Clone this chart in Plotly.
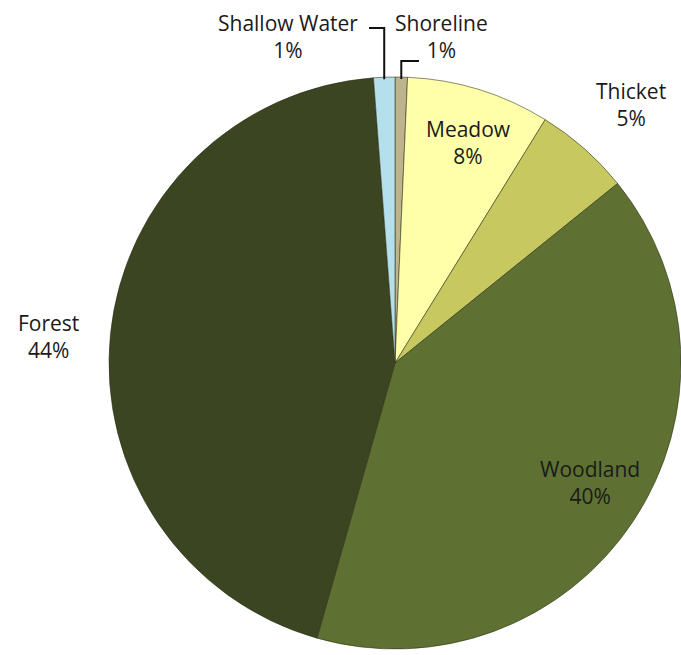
import math
import plotly.graph_objects as go

labels = ["Shoreline", "Meadow", "Thicket", "Woodland", "Forest", "Shallow Water"]
values = [0.7, 8.1, 5.4, 40.2, 44.4, 1.2]
colors = ["#BDB48E", "#FFFFAA", "#C8C860", "#5E7132", "#3B4521", "#B6DFEC"]

W, H = 681, 655
R = 286
CX, CY = 395, 363  # pixel centre (from top)

fig = go.Figure(go.Pie(
    labels=labels, values=values, sort=False, direction="clockwise", rotation=0,
    marker=dict(colors=colors, line=dict(color="rgba(40,45,20,0.55)", width=1)),
    textinfo="none", hoverinfo="label+percent", showlegend=False,
    domain=dict(x=[(CX - R) / W, (CX + R) / W], y=[(H - CY - R) / H, (H - CY + R) / H]),
))

total = sum(values)
pct = {l: round(v / total * 100) for l, v in zip(labels, values)}

# label block centres (pixels)
label_pos = {
    "Shallow Water": (288, 36),
    "Shoreline": (441, 36),
    "Meadow": (468, 142),
    "Thicket": (631, 105),
    "Woodland": (590, 482),
    "Forest": (48, 336),
}
for l in labels:
    x, y = label_pos[l]
    fig.add_annotation(x=x / W, y=1 - y / H, xref="paper", yref="paper",
                       text=f"{l}<br>{pct[l]}%", showarrow=False,
                       font=dict(family="Open Sans, sans-serif", size=21, color="#1a1a1a"),
                       xanchor="center", yanchor="middle")

# leader lines for the two small slices
cum = 0
mids = {}
for l, v in zip(labels, values):
    a0 = cum / total * 360
    cum += v
    a1 = cum / total * 360
    mids[l] = (a0 + a1) / 2
def rim(l):
    a = math.radians(mids[l])
    return CX + R * math.sin(a), CY - R * math.cos(a)

sx, sy = rim("Shallow Water")
fig.add_shape(type="path", xref="paper", yref="paper",
              path=f"M {369/W} {1-28/H} L {sx/W} {1-28/H} L {sx/W} {1-(sy+2)/H}",
              line=dict(color="#111", width=2))
tx, ty = rim("Shoreline")
fig.add_shape(type="path", xref="paper", yref="paper",
              path=f"M {tx/W} {1-(ty+2)/H} L {tx/W} {1-61/H} L {419/W} {1-61/H}",
              line=dict(color="#111", width=2))

fig.update_layout(width=W, height=H, margin=dict(l=0, r=0, t=0, b=0),
                  paper_bgcolor="white", plot_bgcolor="white")
fig.write_html("out.html")
